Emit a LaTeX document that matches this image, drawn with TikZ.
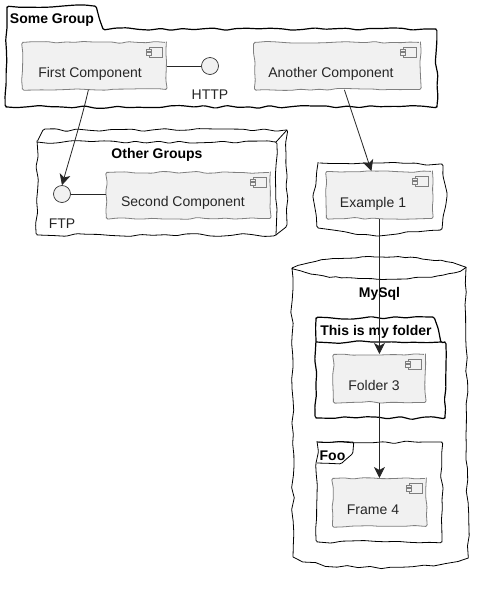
\documentclass[tikz,border=0pt]{standalone}
\usepackage{fontspec}
\setmainfont{Liberation Sans}
\usetikzlibrary{decorations.pathmorphing,arrows.meta,calc,shapes.geometric}
\definecolor{compfill}{HTML}{F1F1F1}
\definecolor{compline}{HTML}{7F7F7F}
\tikzset{
  wob/.style={decorate,decoration={random steps,segment length=9pt,amplitude=1pt},rounded corners=1.5pt},
  wobbig/.style={decorate,decoration={random steps,segment length=11pt,amplitude=1.5pt},rounded corners=1.5pt},
  comp/.style={draw=compline,fill=compfill,rectangle,inner sep=0pt,line width=.8pt,wob,anchor=north west},
  cont/.style={draw=black,line width=1.2pt,wobbig,line join=round},
  thincont/.style={cont,line width=.8pt},
  comptext/.style={font=\fontsize{14}{16}\selectfont,inner sep=0pt,text=black!85,yshift=-1.5pt},
  titletext/.style={font=\bfseries\fontsize{14}{16}\selectfont,inner sep=0pt,yshift=-1.5pt},
  iface/.style={circle,draw=black!80,fill=compfill,minimum size=17pt,inner sep=0pt,line width=.7pt},
  arr/.style={draw=black!85,line width=.8pt,-{Stealth[inset=3pt,length=11pt,width=11pt]}},
  lnk/.style={draw=black!85,line width=.8pt},
  compicon/.pic={
    \draw[compline,line width=.6pt,fill=compfill] (3,0) rectangle (16,10);
    \draw[compline,line width=.6pt,fill=compfill] (0,2) rectangle (5,4.5);
    \draw[compline,line width=.6pt,fill=compfill] (0,5.5) rectangle (5,8);
  }
}
\begin{document}
\begin{tikzpicture}[x=1pt,y=-1pt]
\pgfmathsetseed{11}
\path[use as bounding box,fill=white] (0,0) rectangle (491,590);
% Some Group package
\draw[cont] (7,29) -- (7,7) -- (95,6) -- (103,29) -- (436,29) -- (437,107) -- (6,107) -- cycle;
\node[titletext] (sometitle) at (52,18.5) {Some Group};
% Other Groups node
\draw[thincont] (37,142) -- (43,130) -- (287,130) -- (287,225) -- (276,235) -- (37,235) -- cycle;
\draw[thincont] (37,142) -- (276,142) -- (276,235);
\draw[thincont] (276,142) -- (287,130);
\node[titletext] (othertitle) at (157,153) {Other Groups};
% storage around Example 1
\draw[thincont] (318,163) -- (380,163) -- (442,164) -- (447,193) -- (442,229) -- (379,236) -- (318,228) -- (313,197) -- cycle;
% MySql database
\draw[thincont,rounded corners=0pt,decoration={random steps,segment length=6pt,amplitude=.7pt}] (292,268) .. controls (320,253) and (440,253) .. (466,268)
  .. controls (440,283) and (320,283) .. (292,268);
\draw[thincont,rounded corners=0pt] (292,268) -- (293,557)
  .. controls (320,571) and (440,571) .. (468,557) -- (466,268);
\node[titletext] (mysqltitle) at (379.5,292) {MySql};
% folder
\draw[cont] (316,342) -- (316,318) -- (433,317) -- (441,342) -- (445,342) -- (445,418) -- (316,418) -- cycle;
\draw[cont] (316,342) -- (441,342);
\node[titletext] (foldertitle) at (376,330) {This is my folder};
% frame
\draw[thincont] (317,442) -- (442,442) -- (442,542) -- (317,542) -- cycle;
\draw[thincont] (317,442) -- (353,442) -- (353,452) -- (342,463) -- (317,463);
\node[titletext] (frametitle) at (332.5,454) {Foo};
% components
\node[comp,minimum width=144pt,minimum height=47pt] (first) at (22,42) {};
\node[comptext] (firstlabel) at (90,72) {First Component};
\pic at ($(first.north east)+(-21,5)$) {compicon};
\node[comp,minimum width=166pt,minimum height=47pt] (another) at (254,42) {};
\node[comptext] (anotherlabel) at (331,72) {Another Component};
\pic at ($(another.north east)+(-21,5)$) {compicon};
\node[comp,minimum width=164pt,minimum height=46pt] (second) at (106,172) {};
\node[comptext] (secondlabel) at (183,201) {Second Component};
\pic at ($(second.north east)+(-21,5)$) {compicon};
\node[comp,minimum width=106pt,minimum height=47pt] (example) at (326,171) {};
\node[comptext] (examplelabel) at (373,202) {Example 1};
\pic at ($(example.north east)+(-21,5)$) {compicon};
\node[comp,minimum width=92pt,minimum height=48pt] (folderthree) at (333,354) {};
\node[comptext] (folderlabel) at (374,384) {Folder 3};
\pic at ($(folderthree.north east)+(-21,5)$) {compicon};
\node[comp,minimum width=94pt,minimum height=48pt] (framefour) at (332,478) {};
\node[comptext] (framelabel) at (373,508) {Frame 4};
\pic at ($(framefour.north east)+(-21,5)$) {compicon};
% interfaces
\node[iface] (http) at (210,66) {};
\node[comptext] (httplabel) at (210,93) {HTTP};
\node[iface] (ftp) at (62,194) {};
\node[comptext] (ftplabel) at (62,222) {FTP};
% connectors
\draw[lnk] (first.east |- http) -- (http);
\draw[lnk] (ftp) -- (second.west |- ftp);
\draw[arr] ($(first.south)+(-6,0)$) .. controls (82,118) and (72,150) .. (ftp.north);
\draw[arr] ($(another.south)+(7,0)$) -- ($(example.north)+(-8,0)$);
\draw[arr] (example.south) -- (folderthree.north);
\draw[arr] (folderthree.south) -- (framefour.north);
\end{tikzpicture}
\end{document}
